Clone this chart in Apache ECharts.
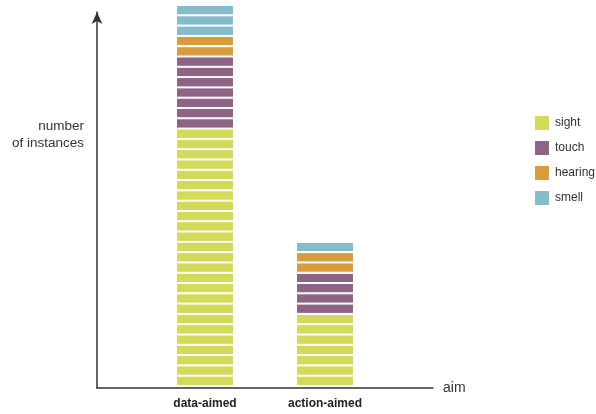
<!DOCTYPE html>
<html lang="en">
<head>
  <meta charset="UTF-8">
  <title>instances by aim</title>
  <script src="https://cdn.jsdelivr.net/npm/echarts@6/dist/echarts.min.js"></script>
</head>
<body style="margin:0">
<div id="main" style="width:596px;height:414px;"></div>
<script>
  var categories = ['data-aimed', 'action-aimed'];
  var senses = ['sight', 'touch', 'hearing', 'smell'];
  var sight = [25, 7];
  var touch = [7, 4];
  var hearing = [2, 2];
  var smell = [3, 1];
  var colors = ['#d3d958', '#8e6486', '#d89c3e', '#84bccc'];

  var myChart = echarts.init(document.getElementById('main'));

  // one stacked series per unit block, so each instance is its own segment
  var counts = [sight, touch, hearing, smell];
  var series = [];
  for (var s = 0; s < senses.length; s++) {
    var c = counts[s];
    var n = Math.max.apply(null, c);
    for (var k = 0; k < n; k++) {
      series.push({
        name: senses[s],
        type: 'bar',
        stack: 'all',
        barWidth: 58,
        xAxisIndex: 0,
        yAxisIndex: 0,
        itemStyle: {
          color: colors[s],
          borderColor: '#fff',
          borderWidth: 1
        },
        emphasis: { disabled: true },
        data: c.map(function (v) { return v > k ? 1 : 0; })
      });
    }
  }

  option = {
    animation: false,
    color: colors,
    legend: {
      data: senses,
      orient: 'vertical',
      left: 533,
      top: 114,
      padding: 0,
      itemWidth: 16,
      itemHeight: 16,
      itemGap: 7,
      icon: 'rect',
      textStyle: {
        fontFamily: 'Liberation Sans, Arial, sans-serif',
        fontSize: 12,
        color: '#333'
      }
    },
    grid: [{
      left: 145,
      right: 211,
      top: 5,
      bottom: 28
    }, {
      left: 97,
      right: 163,
      top: 12,
      bottom: 26
    }],
    graphic: [{
      type: 'text',
      right: 512,
      top: 118,
      style: {
        text: 'number\nof instances',
        textAlign: 'right',
        fontFamily: 'Liberation Sans, Arial, sans-serif',
        fontSize: 13.5,
        lineHeight: 17,
        fill: '#333'
      }
    }],
    xAxis: [{
      type: 'category',
      gridIndex: 0,
      data: categories,
      axisLine: { show: false },
      axisTick: { show: false },
      axisLabel: {
        margin: 12,
        fontFamily: 'Liberation Sans, Arial, sans-serif',
        fontSize: 12,
        fontWeight: 'bold',
        color: '#222'
      }
    }, {
      type: 'value',
      gridIndex: 1,
      min: 0,
      max: 1,
      name: 'aim',
      nameLocation: 'end',
      nameGap: 10,
      nameTextStyle: {
        fontFamily: 'Liberation Sans, Arial, sans-serif',
        fontSize: 14,
        color: '#333'
      },
      axisLine: { show: true, lineStyle: { color: '#333', width: 1.5 } },
      axisTick: { show: false },
      axisLabel: { show: false },
      splitLine: { show: false }
    }],
    yAxis: [{
      type: 'value',
      gridIndex: 0,
      min: 0,
      max: 37,
      show: false
    }, {
      type: 'value',
      gridIndex: 1,
      min: 0,
      max: 1,
      axisLine: {
        show: true,
        symbol: ['none', 'arrow'],
        symbolSize: [8, 12],
        lineStyle: { color: '#333', width: 1.5 }
      },
      axisTick: { show: false },
      axisLabel: { show: false },
      splitLine: { show: false }
    }],
    series: series
  };

  myChart.setOption(option);
</script>
</body>
</html>
